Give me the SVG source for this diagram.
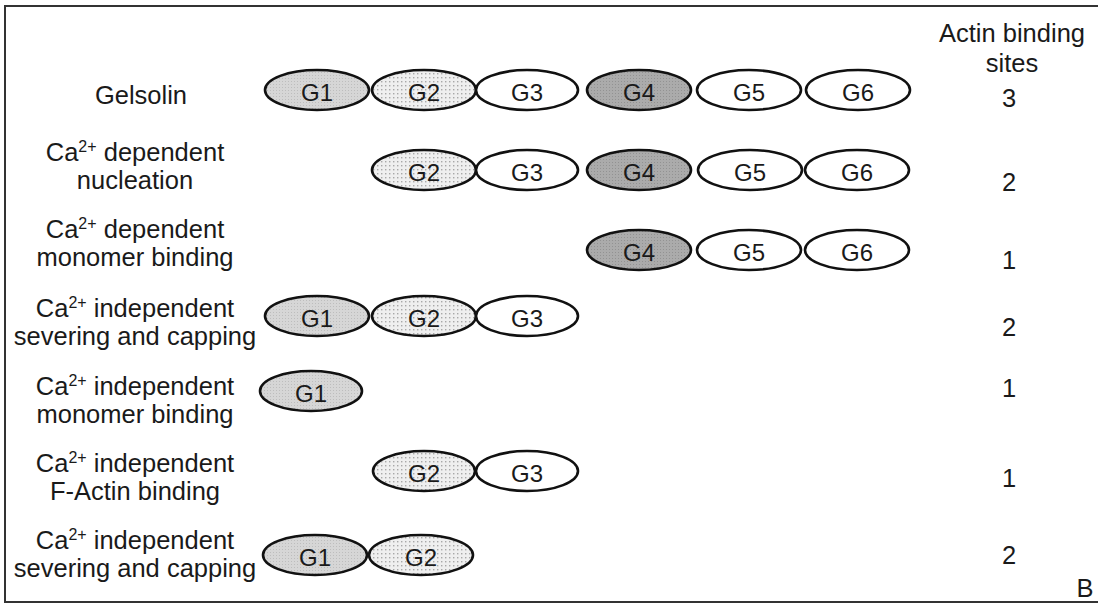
<svg xmlns="http://www.w3.org/2000/svg" width="1098" height="605" viewBox="0 0 1098 605">
<style>
.lbl{font-family:"Liberation Sans",Arial,sans-serif;font-size:25.5px;fill:#1a1a1a;text-anchor:middle}
.sup{font-size:16px}
.g{font-family:"Liberation Sans",Arial,sans-serif;font-size:24px;fill:#1a1a1a;text-anchor:middle}
.e{stroke:#111;stroke-width:2.6}
.g1{fill:url(#p1)}
.g2{fill:url(#p2)}
.g4{fill:url(#p4)}
.w{fill:#fff}
</style>
<defs>
<pattern id="p1" width="3" height="3" patternUnits="userSpaceOnUse">
<rect width="3" height="3" fill="#d6d6d6"/><rect width="1" height="1" fill="#bdbdbd"/>
</pattern>
<pattern id="p2" width="4" height="4" patternUnits="userSpaceOnUse">
<rect width="4" height="4" fill="#efefef"/><rect x="1" y="1" width="1.4" height="1.4" fill="#a8a8a8"/>
</pattern>
<pattern id="p4" width="3" height="3" patternUnits="userSpaceOnUse">
<rect width="3" height="3" fill="#ababab"/><rect width="1" height="1" fill="#929292"/>
</pattern>
</defs>
<rect x="0" y="0" width="1098" height="605" fill="#fff"/>
<rect x="5" y="6" width="1100" height="596" fill="none" stroke="#333" stroke-width="2"/>

<g id="header">
<text class="lbl" x="1012" y="42">Actin binding</text>
<text class="lbl" x="1012" y="72">sites</text>
</g>

<g id="row1">
<text class="lbl" x="141" y="104">Gelsolin</text>
<g id="r1-G1"><ellipse class="e g1" cx="317" cy="90" rx="52" ry="20"/><text class="g" x="317" y="101">G1</text></g>
<g id="r1-G2"><ellipse class="e g2" cx="424" cy="90" rx="52" ry="20"/><text class="g" x="424" y="101">G2</text></g>
<g id="r1-G3"><ellipse class="e w" cx="527" cy="90" rx="51" ry="20"/><text class="g" x="527" y="101">G3</text></g>
<g id="r1-G4"><ellipse class="e g4" cx="639" cy="90" rx="52" ry="20"/><text class="g" x="639" y="101">G4</text></g>
<g id="r1-G5"><ellipse class="e w" cx="749" cy="90" rx="52" ry="20"/><text class="g" x="749" y="101">G5</text></g>
<g id="r1-G6"><ellipse class="e w" cx="858" cy="90" rx="52" ry="20"/><text class="g" x="858" y="101">G6</text></g>
<text class="lbl" x="1009" y="107">3</text>
</g>

<g id="row2">
<text class="lbl" x="135" y="161">Ca<tspan class="sup" dy="-9">2+</tspan><tspan dy="9"> dependent</tspan></text>
<text class="lbl" x="135" y="189">nucleation</text>
<g id="r2-G2"><ellipse class="e g2" cx="424" cy="170" rx="52" ry="20"/><text class="g" x="424" y="181">G2</text></g>
<g id="r2-G3"><ellipse class="e w" cx="527" cy="170" rx="51" ry="20"/><text class="g" x="527" y="181">G3</text></g>
<g id="r2-G4"><ellipse class="e g4" cx="639" cy="170" rx="52" ry="20"/><text class="g" x="639" y="181">G4</text></g>
<g id="r2-G5"><ellipse class="e w" cx="750" cy="170" rx="52" ry="20"/><text class="g" x="750" y="181">G5</text></g>
<g id="r2-G6"><ellipse class="e w" cx="857" cy="170" rx="52" ry="20"/><text class="g" x="857" y="181">G6</text></g>
<text class="lbl" x="1009" y="191">2</text>
</g>

<g id="row3">
<text class="lbl" x="135" y="238">Ca<tspan class="sup" dy="-9">2+</tspan><tspan dy="9"> dependent</tspan></text>
<text class="lbl" x="135" y="266">monomer binding</text>
<g id="r3-G4"><ellipse class="e g4" cx="639" cy="250" rx="52" ry="20"/><text class="g" x="639" y="261">G4</text></g>
<g id="r3-G5"><ellipse class="e w" cx="749" cy="250" rx="52" ry="20"/><text class="g" x="749" y="261">G5</text></g>
<g id="r3-G6"><ellipse class="e w" cx="857" cy="250" rx="52" ry="20"/><text class="g" x="857" y="261">G6</text></g>
<text class="lbl" x="1009" y="269">1</text>
</g>

<g id="row4">
<text class="lbl" x="135" y="317">Ca<tspan class="sup" dy="-9">2+</tspan><tspan dy="9"> independent</tspan></text>
<text class="lbl" x="135" y="345">severing and capping</text>
<g id="r4-G1"><ellipse class="e g1" cx="317" cy="316" rx="52" ry="20"/><text class="g" x="317" y="327">G1</text></g>
<g id="r4-G2"><ellipse class="e g2" cx="424" cy="316" rx="52" ry="20"/><text class="g" x="424" y="327">G2</text></g>
<g id="r4-G3"><ellipse class="e w" cx="527" cy="316" rx="51" ry="20"/><text class="g" x="527" y="327">G3</text></g>
<text class="lbl" x="1009" y="336">2</text>
</g>

<g id="row5">
<text class="lbl" x="135" y="395">Ca<tspan class="sup" dy="-9">2+</tspan><tspan dy="9"> independent</tspan></text>
<text class="lbl" x="135" y="423">monomer binding</text>
<g id="r5-G1"><ellipse class="e g1" cx="311" cy="391" rx="51" ry="20"/><text class="g" x="311" y="402">G1</text></g>
<text class="lbl" x="1009" y="397">1</text>
</g>

<g id="row6">
<text class="lbl" x="135" y="472">Ca<tspan class="sup" dy="-9">2+</tspan><tspan dy="9"> independent</tspan></text>
<text class="lbl" x="135" y="500">F-Actin binding</text>
<g id="r6-G2"><ellipse class="e g2" cx="424" cy="471" rx="51" ry="20"/><text class="g" x="424" y="482">G2</text></g>
<g id="r6-G3"><ellipse class="e w" cx="527" cy="471" rx="51" ry="20"/><text class="g" x="527" y="482">G3</text></g>
<text class="lbl" x="1009" y="487">1</text>
</g>

<g id="row7">
<text class="lbl" x="135" y="549">Ca<tspan class="sup" dy="-9">2+</tspan><tspan dy="9"> independent</tspan></text>
<text class="lbl" x="135" y="577">severing and capping</text>
<g id="r7-G1"><ellipse class="e g1" cx="315" cy="555" rx="52" ry="20"/><text class="g" x="315" y="566">G1</text></g>
<g id="r7-G2"><ellipse class="e g2" cx="421" cy="555" rx="52" ry="20"/><text class="g" x="421" y="566">G2</text></g>
<text class="lbl" x="1009" y="564">2</text>
</g>

<text class="lbl" x="1085" y="597">B</text>
<g id="connectors"></g>
</svg>
